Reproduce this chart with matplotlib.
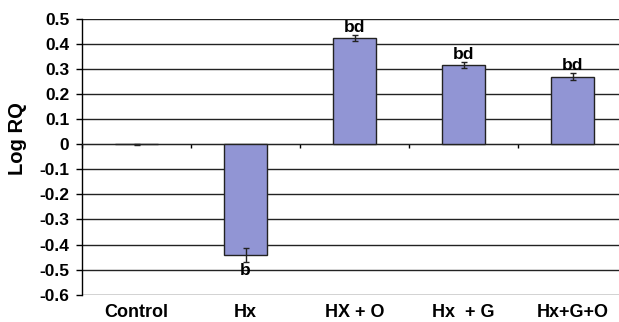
import numpy as np
import matplotlib.pyplot as plt
import matplotlib.transforms as mtransforms

plt.rcParams['font.family'] = ['Liberation Sans', 'DejaVu Sans']

# dados
grupos = ['Control', 'Hx', 'HX + O', 'Hx  + G', 'Hx+G+O']
log_rq = [0.0, -0.44, 0.423, 0.317, 0.27]
erro = [0.003, 0.028, 0.012, 0.011, 0.014]
letras = ['', 'b', 'bd', 'bd', 'bd']

cor_barra = '#9195d4'

fig = plt.figure(figsize=(6.19, 3.22), dpi=100)
ax = fig.add_axes([82 / 619, 1 - 295 / 322, 545 / 619, 276 / 322])

x = np.arange(len(grupos))
ax.bar(x, log_rq, width=0.4, color=cor_barra, edgecolor='#222222', linewidth=1, zorder=3)
ax.errorbar(x, log_rq, yerr=erro, fmt='none', ecolor='#222222', elinewidth=1,
            capsize=2.5, capthick=1, zorder=4)

# letras de significancia
for xi, v, e, l in zip(x, log_rq, erro, letras):
    if not l:
        continue
    if v >= 0:
        ax.text(xi, v + e + 0.002, l, ha='center', va='bottom', fontsize=12.5, fontweight='bold')
    else:
        ax.text(xi, v - e - 0.004, l, ha='center', va='top', fontsize=12.5, fontweight='bold')

ax.set_xlim(-0.5, len(grupos) - 0.5)
ax.set_ylim(-0.6015, 0.5)
yt = np.round(np.arange(-0.6, 0.51, 0.1), 1)
ax.set_yticks(yt)
ax.set_yticklabels(['0' if v == 0 else f'{v:.1f}' for v in yt], fontsize=12.5, fontweight='bold')
ax.tick_params(axis='y', length=4, width=1, pad=5)
ax.yaxis.grid(True, color='#222222', linewidth=1, zorder=0)
ax.set_axisbelow(True)

ax.spines['top'].set_visible(False)
ax.spines['right'].set_visible(False)
ax.spines['left'].set_linewidth(1)
ax.spines['bottom'].set_position(('data', 0))
ax.spines['bottom'].set_color('#222222')
ax.set_xticks(np.arange(-0.5, len(grupos), 1.0))
ax.set_xticklabels([])
ax.tick_params(axis='x', length=3, width=1, direction='out')

trans = mtransforms.blended_transform_factory(ax.transData, ax.transAxes)
for xi, g in zip(x, grupos):
    ax.text(xi, -0.065, g, transform=trans, ha='center', va='center',
            fontsize=13, fontweight='bold')

ax.set_ylabel('Log RQ', fontsize=14.5, fontweight='bold')
ax.yaxis.set_label_coords(-0.101, 0.567)

fig.savefig('out.png', dpi=100)
